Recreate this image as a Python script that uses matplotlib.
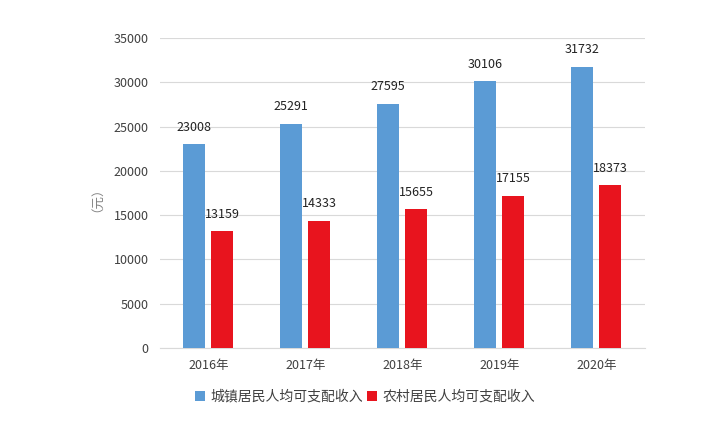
import numpy as np
from matplotlib import pyplot as plt

plt.rcParams['font.family'] = ['Noto Sans CJK SC', 'DejaVu Sans']

years = ["2016年", "2017年", "2018年", "2019年", "2020年"]
urban = [23008, 25291, 27595, 30106, 31732]
rural = [13159, 14333, 15655, 17155, 18373]

blue = "#5B9BD5"
red = "#E8141E"
text_color = "#404040"

fig = plt.figure(figsize=(7.07, 4.29), dpi=100)
ax = fig.add_axes([0.226, 0.189, 0.686, 0.722])

x = np.arange(len(years))
w = 0.227
off = 0.144
b1 = ax.bar(x - off, urban, w, color=blue, label="城镇居民人均可支配收入", zorder=3)
b2 = ax.bar(x + off, rural, w, color=red, label="农村居民人均可支配收入", zorder=3)

for bars, vals in ((b1, urban), (b2, rural)):
    for rect, v in zip(bars, vals):
        ax.text(rect.get_x() + rect.get_width() / 2, v + 1200, str(v),
                ha="center", va="bottom", fontsize=9, color="#222222")

ax.set_xlim(-0.5, len(years) - 0.5)
ax.set_ylim(0, 35000)
ax.set_yticks(np.arange(0, 35001, 5000))
ax.set_xticks(x)
ax.set_xticklabels(years)
ax.tick_params(axis="both", length=0, labelsize=9, colors=text_color, pad=8)
ax.yaxis.grid(True, color="#D9D9D9", linewidth=0.8, zorder=0)
for s in ["top", "right", "left"]:
    ax.spines[s].set_visible(False)
ax.spines["bottom"].set_color("#D9D9D9")

ax.set_ylabel("（元）", fontsize=9, color="#808080", labelpad=12)

ax.legend(loc="center", bbox_to_anchor=(0.423, -0.158), ncol=2, frameon=False,
          fontsize=10, handlelength=0.7, handleheight=0.7, columnspacing=0.3,
          handletextpad=0.4, labelcolor=text_color)

fig.savefig("out.png", dpi=100)
